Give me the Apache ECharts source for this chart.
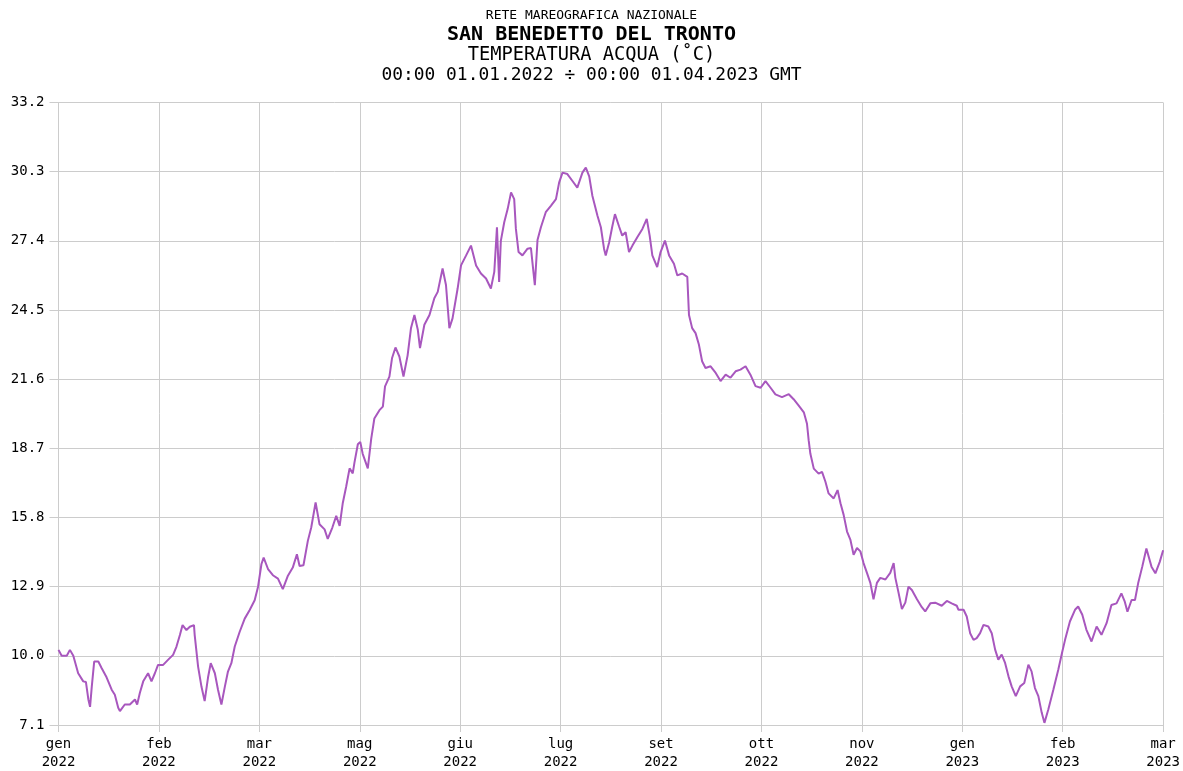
<!DOCTYPE html>
<html>
<head>
<meta charset="utf-8">
<script src="https://cdn.jsdelivr.net/npm/echarts@6/dist/echarts.min.js"></script>
<style>
html,body{margin:0;padding:0;background:#fff;}
#chart{width:1183px;height:771px;}
</style>
</head>
<body>
<div id="chart"></div>
<script>
// Day offsets from 00:00 01.01.2022
var days = [0,1.3,3.4,4.7,6.1,8.1,10.2,11.3,12.3,13.0,13.7,14.7,16.4,17.8,19.8,21.9,23.2,24.6,25.3,27.3,29.4,31.5,32.4,33.5,34.9,36.9,38.3,39.7,41.0,43.1,45.1,47.2,48.6,50.0,51.1,52.7,54.1,55.8,56.1,57.5,58.9,60.2,61.6,62.7,64.4,65.7,67.1,68.5,69.8,71.2,72.6,74.6,76.7,78.7,80.8,82.2,83.6,84.5,86.3,88.3,90.4,92.4,94.5,96.5,98.2,99.3,100.9,102.7,104.1,105.9,107.5,109.6,110.9,112.8,114.4,115.8,117.1,118.5,119.9,121.2,121.9,123.3,124.3,125.3,127.4,128.8,130.1,132.2,133.6,134.5,136.3,137.4,138.8,140.4,142.1,143.8,145.2,146.6,148.0,148.9,150.7,152.8,154.8,156.2,158.2,159.6,161.0,162.3,164.4,165.8,167.9,169.9,172.0,174.0,176.1,178.1,179.5,180.6,181.5,182.2,183.6,185.0,186.4,187.7,188.4,189.5,191.1,193.2,194.6,195.2,196.2,197.3,198.7,200.7,202.8,204.9,206.2,207.6,209.6,211.7,213.7,215.8,217.2,218.6,219.9,222.0,223.4,224.7,225.4,226.8,228.1,229.2,230.9,232.2,233.6,235.0,236.4,238.4,240.5,242.3,243.5,244.6,246.6,248.0,249.8,251.5,253.5,254.9,256.9,259.0,259.7,261.0,262.4,263.8,265.1,266.5,268.6,270.7,272.7,274.8,276.8,278.9,280.9,283.0,285.0,287.1,289.2,291.2,293.3,295.3,298.0,300.8,302.8,304.9,307.0,308.3,309.0,309.7,311.1,313.1,314.5,315.9,317.2,319.3,320.9,322.1,323.4,324.8,326.2,327.5,328.9,330.3,331.6,333.0,334.4,335.7,337.1,338.5,340.6,342.6,344.0,344.7,346.0,347.4,348.8,350.1,351.5,353.6,355.6,357.0,359.1,361.1,363.8,365.9,367.9,370.0,370.7,372.8,374.1,375.5,376.9,378.2,379.6,381.0,383.0,384.4,385.8,387.1,388.5,389.9,391.3,392.6,394.3,396.1,397.8,399.5,400.8,402.2,403.6,405.0,406.1,407.7,409.8,411.8,413.5,414.6,416.6,418.7,420.0,421.7,423.4,425.5,427.6,429.6,431.7,433.7,435.8,437.8,439.2,440.3,442.0,443.4,444.7,446.4,448.1,450.2,451.8,453.6,455.0];
// Water temperature (°C)
var temps = [10.25,10.0,10.0,10.25,10.0,9.27,8.93,8.9,8.17,7.86,8.7,9.76,9.76,9.48,9.1,8.58,8.37,7.82,7.68,7.96,7.96,8.17,7.96,8.44,8.93,9.27,8.93,9.27,9.62,9.62,9.83,10.04,10.39,10.87,11.29,11.08,11.22,11.29,10.87,9.55,8.7,8.1,9.1,9.69,9.27,8.58,7.96,8.7,9.34,9.69,10.39,11.0,11.56,11.91,12.33,12.9,13.85,14.12,13.64,13.38,13.24,12.8,13.36,13.7,14.26,13.77,13.8,14.82,15.38,16.43,15.52,15.3,14.9,15.38,15.87,15.45,16.41,17.1,17.86,17.65,18.1,18.87,18.97,18.47,17.86,19.1,19.95,20.3,20.45,21.3,21.71,22.49,22.93,22.55,21.71,22.6,23.75,24.29,23.67,22.9,23.88,24.29,24.99,25.26,26.24,25.55,23.74,24.15,25.4,26.37,26.79,27.2,26.37,26.03,25.82,25.4,26.1,27.97,25.68,27.4,28.18,28.73,29.43,29.15,27.9,26.93,26.79,27.07,27.1,26.51,25.54,27.43,27.97,28.6,28.87,29.15,29.84,30.26,30.2,29.91,29.63,30.26,30.47,30.1,29.29,28.45,27.97,27.07,26.79,27.33,28.0,28.52,28.0,27.62,27.76,26.93,27.2,27.55,27.9,28.32,27.62,26.79,26.3,26.93,27.41,26.79,26.44,25.95,26.03,25.89,24.29,23.74,23.53,23.04,22.35,22.07,22.14,21.86,21.52,21.79,21.66,21.93,22.0,22.14,21.79,21.31,21.24,21.52,21.24,20.96,20.85,20.97,20.76,20.49,20.21,19.73,19.03,18.47,17.85,17.64,17.71,17.3,16.81,16.6,16.95,16.4,15.91,15.21,14.86,14.24,14.52,14.38,13.89,13.48,13.06,12.37,13.06,13.27,13.2,13.48,13.89,13.27,12.65,11.96,12.23,12.9,12.76,12.37,12.04,11.86,12.2,12.23,12.1,12.3,12.2,12.1,11.93,11.93,11.65,10.95,10.67,10.74,10.95,11.3,11.23,10.95,10.26,9.84,10.05,9.7,9.14,8.72,8.31,8.72,8.86,9.63,9.35,8.65,8.31,7.61,7.19,7.75,8.59,9.42,10.19,10.67,11.44,11.93,12.07,11.72,11.09,10.6,11.23,10.88,11.37,12.13,12.2,12.62,12.27,11.85,12.34,12.34,13.04,13.74,14.5,13.74,13.46,13.94,14.43];
var xTickLabels = ['gen\n2022','feb\n2022','mar\n2022','mag\n2022','giu\n2022','lug\n2022','set\n2022','ott\n2022','nov\n2022','gen\n2023','feb\n2023','mar\n2023'];
var titleLines = ['RETE MAREOGRAFICA NAZIONALE','SAN BENEDETTO DEL TRONTO','TEMPERATURA ACQUA (\u02DAC)','00:00 01.01.2022 \u00F7 00:00 01.04.2023 GMT'];

var TOTAL_DAYS = 455;
var X_STEP = TOTAL_DAYS / 11;
var FONT = '"DejaVu Sans Mono", "Liberation Mono", monospace';
var GRID = '#cccccc';

var seriesData = days.map(function (d, i) { return [d, temps[i]]; });

var chart = echarts.init(document.getElementById('chart'), null, {renderer: 'canvas'});
chart.setOption({
  animation: false,
  backgroundColor: '#ffffff',
  title: [
    {text: titleLines[0], left: 'center', top: 4, textStyle: {fontFamily: FONT, fontSize: 13, fontWeight: 'normal', color: '#000', lineHeight: 14}},
    {text: titleLines[1], left: 'center', top: 19, textStyle: {fontFamily: FONT, fontSize: 20, fontWeight: 'bold', color: '#000', lineHeight: 21}},
    {text: titleLines[2], left: 'center', top: 40, textStyle: {fontFamily: FONT, fontSize: 18.7, fontWeight: 'normal', color: '#000', lineHeight: 20}},
    {text: titleLines[3], left: 'center', top: 61, textStyle: {fontFamily: FONT, fontSize: 17.9, fontWeight: 'normal', color: '#000', lineHeight: 19}}
  ],
  grid: {left: 58.5, right: 18, top: 102.5, bottom: 41.5, containLabel: false},
  xAxis: {
    type: 'value',
    min: 0,
    max: TOTAL_DAYS,
    interval: X_STEP,
    axisLine: {show: true, lineStyle: {color: GRID, width: 1}},
    axisTick: {show: true, length: 7, lineStyle: {color: GRID}},
    splitLine: {show: true, lineStyle: {color: GRID, width: 1}},
    axisLabel: {
      show: true, margin: 10, color: '#000', fontFamily: FONT, fontSize: 14, lineHeight: 18,
      showMinLabel: true, showMaxLabel: true,
      formatter: function (v) { var k = Math.round(v / X_STEP); return xTickLabels[k] || ''; }
    }
  },
  yAxis: {
    type: 'value',
    min: 7.1,
    max: 33.2,
    interval: 2.9,
    axisLine: {show: true, lineStyle: {color: GRID, width: 1}},
    axisTick: {show: true, length: 9, lineStyle: {color: GRID}},
    splitLine: {show: true, lineStyle: {color: GRID, width: 1}},
    axisLabel: {
      show: true, margin: 14, color: '#000', fontFamily: FONT, fontSize: 14,
      showMinLabel: true, showMaxLabel: true,
      formatter: function (v) { return v.toFixed(1); }
    }
  },
  series: [{
    type: 'line',
    data: seriesData,
    showSymbol: false,
    symbol: 'none',
    lineStyle: {color: '#a857be', width: 2},
    itemStyle: {color: '#a857be'}
  }]
});
</script>
</body>
</html>
